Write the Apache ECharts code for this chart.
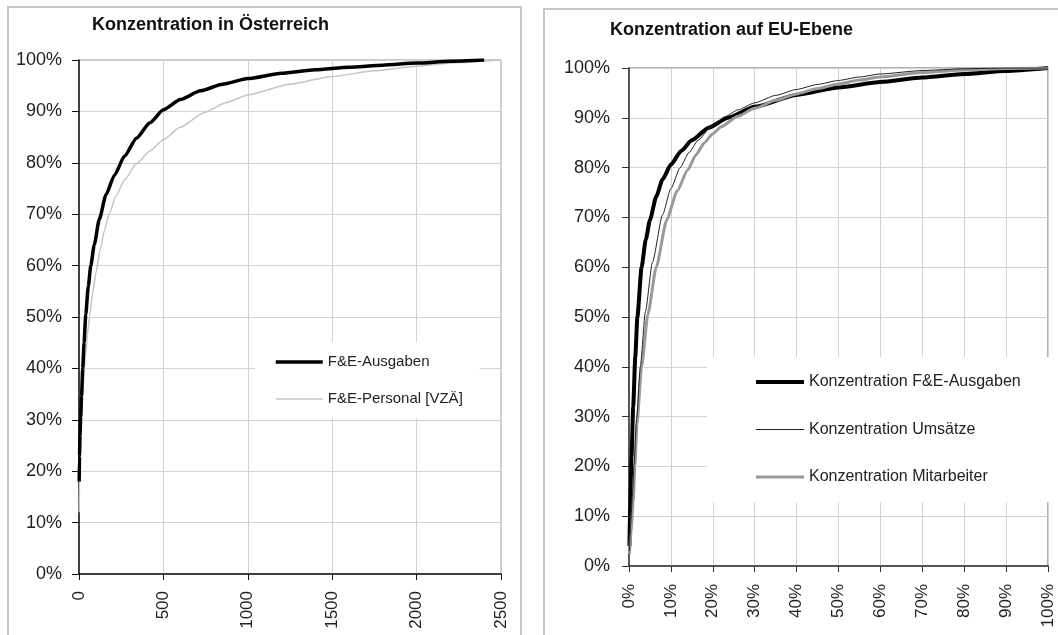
<!DOCTYPE html>
<html>
<head>
<meta charset="utf-8">
<script src="https://cdn.jsdelivr.net/npm/echarts@6/dist/echarts.min.js"></script>
<style>
html,body{margin:0;padding:0;background:#fff;}
#chart{width:1058px;height:635px;}
</style>
</head>
<body>
<div id="chart"></div>
<script>
// ---- Data: Konzentration in Österreich (x = Anzahl Unternehmen, y = kumulierter Anteil %) ----
const atAusgabenX = [1, 3, 6, 10, 15, 22, 30, 40, 55, 70, 90, 120, 160, 210, 270, 340, 420, 500, 600, 720, 850, 1000, 1200, 1400, 1600, 1800, 2000, 2200, 2400];
const atAusgabenY = [18, 23, 27, 30.5, 34.5, 40, 45, 50.5, 56, 60, 64, 69, 73.8, 77.6, 81.3, 84.8, 87.8, 90.3, 92.3, 94.0, 95.3, 96.4, 97.4, 98.1, 98.6, 99.0, 99.4, 99.75, 100];
const atPersonalX = [1, 4, 8, 14, 22, 30, 40, 50, 62, 80, 100, 125, 150, 178, 220, 270, 340, 420, 500, 600, 742, 870, 1000, 1250, 1500, 1750, 2000, 2250, 2500];
const atPersonalY = [12, 21, 25.5, 30, 35, 39, 43, 46.5, 50, 54.5, 58.5, 63, 66.8, 70, 73.6, 76.7, 79.8, 82.3, 84.5, 86.9, 89.8, 91.7, 93.2, 95.3, 96.8, 97.9, 98.8, 99.5, 100];
const atXTicks = [0, 500, 1000, 1500, 2000, 2500];

// ---- Data: Konzentration auf EU-Ebene (x = Anteil Unternehmen %, y = kumulierter Anteil %) ----
const euAusgabenX = [0.1, 0.3, 0.6, 1.0, 1.5, 2.0, 3.0, 4.0, 5.0, 6.5, 8.0, 10, 12.5, 15, 19, 23.6, 30, 40, 50, 60, 70, 80, 90, 100];
const euAusgabenY = [4, 12, 22, 32, 42, 50, 60, 65.5, 69.5, 74.2, 77.6, 80.6, 83.4, 85.5, 88, 90, 92.2, 94.6, 96.1, 97.2, 98.1, 98.8, 99.4, 100];
const euUmsatzX = [0.1, 0.4, 0.8, 1.2, 1.8, 2.7, 3.9, 5.6, 8, 10, 12.2, 14.3, 16.5, 19.5, 22.9, 26, 30, 35, 40, 45, 50, 55, 60, 70, 80, 90, 100];
const euUmsatzY = [3, 8.5, 14, 20.5, 29.5, 40, 51, 61, 70.5, 75.8, 80, 83, 85.5, 88.1, 90.2, 91.6, 93, 94.5, 95.7, 96.7, 97.5, 98.2, 98.8, 99.5, 99.85, 100, 100];
const euMitarbX = [0.1, 0.5, 1.0, 1.4, 1.9, 3.0, 4.5, 6.5, 9, 11.5, 14, 16, 18, 20, 22, 26, 30, 35, 40, 45, 50, 55, 60, 70, 80, 90, 100];
const euMitarbY = [2.5, 7, 13, 20, 28.5, 40, 50.5, 60, 69.5, 75.3, 79.5, 82.6, 85, 86.8, 88.2, 90.3, 91.9, 93.5, 94.8, 95.9, 96.8, 97.6, 98.2, 99.1, 99.6, 99.9, 100];

const zip = (xs, ys) => xs.map((x, i) => [x, ys[i]]);
const FONT = '"Liberation Sans", Arial, sans-serif';

const chart = echarts.init(document.getElementById('chart'), null, {renderer: 'canvas'});

const yAxisBase = (gridIndex, axisColor, margin) => ({
  type: 'value', gridIndex, min: 0, max: 100, interval: 10,
  axisLine: {show: true, lineStyle: {color: axisColor, width: 1.5}},
  axisTick: {show: true, length: 7, lineStyle: {color: axisColor}},
  axisLabel: {formatter: '{value}%', fontSize: 18, color: '#222', fontFamily: FONT, margin},
  splitLine: {show: true, lineStyle: {color: '#d2d2d2', width: 1}}
});

const hiddenSymbol = {color: 'transparent', borderColor: 'transparent', borderWidth: 0, opacity: 0};

const option = {
  animation: false,
  backgroundColor: '#fff',
  title: [
    {text: 'Konzentration in Österreich', left: 92, top: 16, padding: 0,
     textStyle: {fontSize: 18, fontWeight: 'bold', color: '#111', fontFamily: FONT}},
    {text: 'Konzentration auf EU-Ebene', left: 610, top: 21, padding: 0,
     textStyle: {fontSize: 18, fontWeight: 'bold', color: '#111', fontFamily: FONT}}
  ],
  graphic: [
    {type: 'rect', shape: {x: 8, y: 7, width: 513, height: 650}, style: {fill: 'none', stroke: '#c8c8c8', lineWidth: 2}, z: -10, silent: true},
    {type: 'rect', shape: {x: 544, y: 9, width: 540, height: 650}, style: {fill: 'none', stroke: '#c8c8c8', lineWidth: 2}, z: -10, silent: true}
  ],
  grid: [
    {left: 79, top: 60, width: 422, height: 514, show: true, borderColor: '#999', borderWidth: 1, backgroundColor: 'transparent'},
    {left: 629, top: 68, width: 419, height: 498, show: true, borderColor: '#999', borderWidth: 1.5, backgroundColor: 'transparent'}
  ],
  xAxis: [
    {type: 'value', gridIndex: 0, min: 0, max: 2500, interval: 500,
     axisLine: {show: true, onZero: false, lineStyle: {color: '#111', width: 1.5}},
     axisTick: {show: true, length: 6, lineStyle: {color: '#111'}},
     axisLabel: {rotate: 90, fontSize: 17, color: '#222', fontFamily: FONT, margin: 17,
                 formatter: v => atXTicks.includes(v) ? String(v) : ''},
     splitLine: {show: true, lineStyle: {color: '#d2d2d2', width: 1}}},
    {type: 'value', gridIndex: 1, min: 0, max: 100, interval: 10,
     axisLine: {show: true, onZero: false, lineStyle: {color: '#333', width: 1.5}},
     axisTick: {show: true, length: 6, lineStyle: {color: '#333'}},
     axisLabel: {rotate: 90, fontSize: 17, color: '#222', fontFamily: FONT, margin: 18, formatter: '{value}%'},
     splitLine: {show: true, lineStyle: {color: '#d2d2d2', width: 1}}}
  ],
  yAxis: [
    yAxisBase(0, '#111', 17),
    yAxisBase(1, '#333', 19)
  ],
  legend: [
    {orient: 'vertical', left: 255, top: 342, padding: [12, 17, 11, 19],
     backgroundColor: '#fff', itemWidth: 47, itemHeight: 16, itemGap: 21,
     itemStyle: hiddenSymbol, lineStyle: {width: 'inherit'},
     data: ['F&E-Ausgaben', 'F&E-Personal [VZÄ]'],
     textStyle: {fontSize: 15, color: '#222', fontFamily: FONT, lineHeight: 16}},
    {orient: 'vertical', left: 707, top: 357, padding: [17, 31, 17, 47],
     backgroundColor: '#fff', itemWidth: 48, itemHeight: 16, itemGap: 31.5,
     itemStyle: hiddenSymbol, lineStyle: {width: 'inherit'},
     data: ['Konzentration F&E-Ausgaben', 'Konzentration Umsätze', 'Konzentration Mitarbeiter'],
     textStyle: {fontSize: 16, color: '#222', fontFamily: FONT, lineHeight: 16}}
  ],
  series: [
    {name: 'F&E-Personal [VZÄ]', type: 'line', xAxisIndex: 0, yAxisIndex: 0,
     data: zip(atPersonalX, atPersonalY), symbol: 'none', smooth: 0.2, smoothMonotone: 'x',
     lineStyle: {color: '#c4c4c4', width: 1.5}, itemStyle: {color: '#c4c4c4'}, z: 2},
    {name: 'F&E-Ausgaben', type: 'line', xAxisIndex: 0, yAxisIndex: 0,
     data: zip(atAusgabenX, atAusgabenY), symbol: 'none', smooth: 0.2, smoothMonotone: 'x',
     lineStyle: {color: '#000', width: 3.5}, itemStyle: {color: '#000'}, z: 3},
    {name: 'Konzentration F&E-Ausgaben', type: 'line', xAxisIndex: 1, yAxisIndex: 1,
     data: zip(euAusgabenX, euAusgabenY), symbol: 'none', smooth: 0.2, smoothMonotone: 'x',
     lineStyle: {color: '#000', width: 4}, itemStyle: {color: '#000'}, z: 2},
    {name: 'Konzentration Umsätze', type: 'line', xAxisIndex: 1, yAxisIndex: 1,
     data: zip(euUmsatzX, euUmsatzY), symbol: 'none', smooth: 0.2, smoothMonotone: 'x',
     lineStyle: {color: '#222', width: 1}, itemStyle: {color: '#222'}, z: 4},
    {name: 'Konzentration Mitarbeiter', type: 'line', xAxisIndex: 1, yAxisIndex: 1,
     data: zip(euMitarbX, euMitarbY), symbol: 'none', smooth: 0.2, smoothMonotone: 'x',
     lineStyle: {color: '#999', width: 3}, itemStyle: {color: '#999'}, z: 3}
  ]
};
chart.setOption(option);
</script>
</body>
</html>
